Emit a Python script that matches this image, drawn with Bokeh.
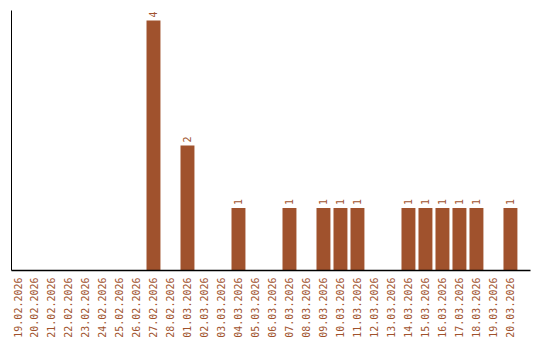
import math
from bokeh.plotting import figure
from bokeh.models import ColumnDataSource, Range1d, FixedTicker
from bokeh.core.properties import value
from bokeh.embed import file_html
from bokeh.resources import INLINE

dates = ["19.02.2026", "20.02.2026", "21.02.2026", "22.02.2026", "23.02.2026",
         "24.02.2026", "25.02.2026", "26.02.2026", "27.02.2026", "28.02.2026",
         "01.03.2026", "02.03.2026", "03.03.2026", "04.03.2026", "05.03.2026",
         "06.03.2026", "07.03.2026", "08.03.2026", "09.03.2026", "10.03.2026",
         "11.03.2026", "12.03.2026", "13.03.2026", "14.03.2026", "15.03.2026",
         "16.03.2026", "17.03.2026", "18.03.2026", "19.03.2026", "20.03.2026"]
counts = [0, 0, 0, 0, 0, 0, 0, 0, 4, 0,
          2, 0, 0, 1, 0, 0, 1, 0, 1, 1,
          1, 0, 0, 1, 1, 1, 1, 1, 0, 1]

color = "#A0522D"
font = "DejaVu Sans Mono"

idx = list(range(len(dates)))
bar_x = [i for i, c in zip(idx, counts) if c > 0]
bar_counts = [c for c in counts if c > 0]
src = ColumnDataSource(dict(x=bar_x, top=bar_counts, label=[str(c) for c in bar_counts]))

p = figure(width=540, height=340, x_range=Range1d(-0.353, 30.18), y_range=Range1d(0, 4.16),
           output_backend="svg", toolbar_location=None,
           min_border_left=11, min_border_right=10, min_border_top=10, min_border_bottom=0)
p.vbar(x="x", top="top", width=0.82, source=src, color=color, line_color=None)
p.text(x="x", y="top", text="label", source=src, angle=math.pi / 2, y_offset=-3,
       text_align="left", text_baseline="middle", text_color=color,
       text_font=value(font), text_font_size="10px")

p.outline_line_color = None
p.xgrid.grid_line_color = None
p.ygrid.grid_line_color = None
p.xaxis.ticker = FixedTicker(ticks=idx)
p.xaxis.major_label_overrides = {i: d for i, d in zip(idx, dates)}
p.xaxis.major_label_orientation = math.pi / 2
p.xaxis.major_label_text_font = font
p.xaxis.major_label_text_font_size = "10px"
p.xaxis.major_label_text_color = color
p.xaxis.major_tick_line_color = None
p.xaxis.minor_tick_line_color = None
p.xaxis.major_label_standoff = 1
p.xaxis.axis_line_color = "black"
p.xaxis.axis_line_width = 1.5
p.yaxis.ticker = FixedTicker(ticks=[])
p.yaxis.major_tick_line_color = None
p.yaxis.minor_tick_line_color = None
p.yaxis.axis_line_color = "black"

open("out.html", "w").write(file_html(p, INLINE))
